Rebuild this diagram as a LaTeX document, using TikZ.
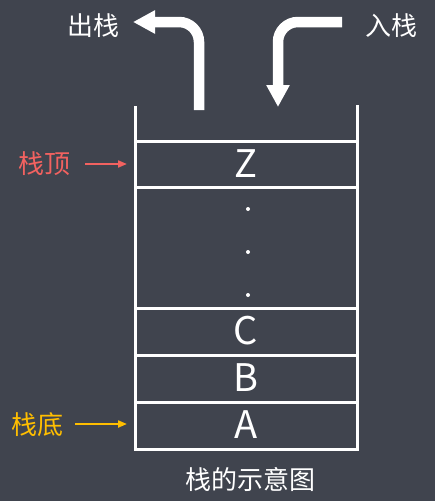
\documentclass[tikz,border=0pt]{standalone}
\usepackage{fontspec}
\setmainfont{Noto Sans CJK SC}
\usetikzlibrary{arrows.meta}
\definecolor{bg}{RGB}{64,68,78}
\definecolor{topred}{RGB}{242,98,96}
\definecolor{botyel}{RGB}{255,190,0}
\tikzset{
  wall/.style={draw=white,line width=3pt},
  cellline/.style={draw=white,line width=3pt},
  letter/.style={text=white,font=\fontsize{38}{38}\selectfont,inner sep=0pt},
  cjk/.style={font=\fontsize{26}{26}\selectfont,inner sep=0pt},
  bigarrow/.style={draw=white,line width=10.5pt,-{Triangle[width=22pt,length=22pt]}},
  smallarrow/.style={line width=2pt,-{Triangle[width=7pt,length=9pt]}},
  dot/.style={circle,fill=white,inner sep=0pt,minimum size=4pt}
}
\begin{document}
\begin{tikzpicture}[x=1pt,y=-1pt]
\fill[bg] (0,0) rectangle (435,501);
\useasboundingbox (0,0) rectangle (435,501);
% walls
\coordinate (lt) at (135,106);
\coordinate (lb) at (135,449);
\coordinate (rt) at (357,105);
\coordinate (rb) at (357,449);
\draw[wall] (lt) -- (lb) -- (rb) -- (rt);
% cell lines
\foreach \yy in {141,187,308,355,402}{
  \draw[cellline] (135,\yy) -- (357,\yy);
}
% letters
\node[letter] (z) at (246,164) {Z};
\node[letter] (c) at (246,331) {C};
\node[letter] (b) at (246,378) {B};
\node[letter] (a) at (246,425) {A};
\node[dot] (d1) at (248,209) {};
\node[dot] (d2) at (248,252) {};
\node[dot] (d3) at (248,295) {};
% big arrows
\coordinate (outstart) at (199,110);
\coordinate (outtip) at (133,22);
\draw[bigarrow] (outstart) -- (199,42) arc[start angle=0,end angle=-90,radius=20] -- (outtip);
\coordinate (instart) at (342,22);
\coordinate (intip) at (278,107);
\draw[bigarrow] (instart) -- (298,22) arc[start angle=-90,end angle=-180,radius=20] -- (intip);
% labels
\node[cjk,text=white] (out) at (93,26) {出栈};
\node[cjk,text=white] (in) at (391,26) {入栈};
\node[cjk,text=topred] (top) at (45,164) {栈顶};
\node[cjk,text=botyel] (bot) at (38,425) {栈底};
\node[cjk,text=white] (cap) at (250,479) {栈的示意图};
\coordinate (toparr) at (127,164);
\coordinate (botarr) at (127,424);
\draw[smallarrow,draw=topred,fill=topred] (85,164) -- (toparr);
\draw[smallarrow,draw=botyel,fill=botyel] (75,424) -- (botarr);
\end{tikzpicture}
\end{document}
